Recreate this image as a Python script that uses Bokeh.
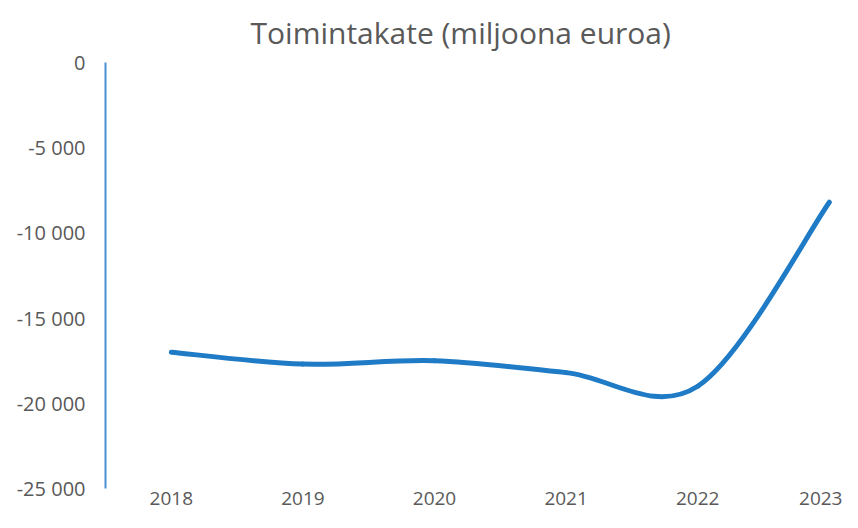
import numpy as np
from bokeh.plotting import figure
from bokeh.models import Range1d, FixedTicker
from bokeh.embed import file_html
from bokeh.resources import INLINE

# ---- data ----
years = [2018, 2019, 2020, 2021, 2022, 2023]
toimintakate = [-17000, -17700, -17500, -18200, -19000, -8200]
y_ticks = [0, -5000, -10000, -15000, -20000, -25000]
y_tick_labels = ["0", "-5 000", "-10 000", "-15 000", "-20 000", "-25 000"]
x_tick_labels = ["2018", "2019", "2020", "2021", "2022", "2023"]
title_text = "Toimintakate (miljoona euroa)"

FONT = "Open Sans"
TEXT_COLOR = "#595959"
LINE_COLOR = "#1f7bc6"

p = figure(width=842, height=512, output_backend="svg", toolbar_location=None,
           x_range=Range1d(2017.5, 2023.1), y_range=Range1d(-25000, 0),
           min_border_left=105, min_border_right=0, min_border_top=62,
           min_border_bottom=24, outline_line_color=None,
           background_fill_color="white", border_fill_color="white")

p.title.text = title_text
p.title.text_font = FONT
p.title.text_font_size = "30px"
p.title.text_font_style = "normal"
p.title.text_color = TEXT_COLOR
p.title.align = "left"
p.title.offset = 145
p.title.standoff = 19

p.grid.visible = False

# smooth curve (Excel-style smoothed line) built from the data points
x = np.array(years, dtype=float)
y = np.array(toimintakate, dtype=float)
xp = np.concatenate([[x[0]], x, [x[-1]]])
yp = np.concatenate([[y[0]], y, [y[-1]]])
n = len(x)
x0, y0 = x[:-1], y[:-1]
x1, y1 = x[1:], y[1:]
cx0 = x0 + (xp[2:n + 1] - xp[0:n - 1]) / 6.0
cy0 = y0 + (yp[2:n + 1] - yp[0:n - 1]) / 6.0
cx1 = x1 - (xp[3:n + 2] - xp[1:n]) / 6.0
cy1 = y1 - (yp[3:n + 2] - yp[1:n]) / 6.0
p.bezier(x0=x0, y0=y0, x1=x1, y1=y1, cx0=cx0, cy0=cy0, cx1=cx1, cy1=cy1,
         line_color=LINE_COLOR, line_width=5, line_cap="round")

# x axis
xa = p.xaxis[0]
xa.ticker = FixedTicker(ticks=years)
xa.major_label_overrides = {yr: lab for yr, lab in zip(years, x_tick_labels)}
xa.axis_line_color = None
xa.major_tick_line_color = None
xa.minor_tick_line_color = None
xa.major_tick_out = 0
xa.major_label_text_font = FONT
xa.major_label_text_font_size = "19px"
xa.major_label_text_color = TEXT_COLOR
xa.major_label_standoff = 3

# y axis
ya = p.yaxis[0]
ya.ticker = FixedTicker(ticks=y_ticks)
ya.major_label_overrides = {t: lab for t, lab in zip(y_ticks, y_tick_labels)}
ya.axis_line_color = "#4a90d4"
ya.axis_line_width = 2
ya.major_tick_line_color = None
ya.minor_tick_line_color = None
ya.major_tick_out = 0
ya.major_label_text_font = FONT
ya.major_label_text_font_size = "20px"
ya.major_label_text_color = TEXT_COLOR
ya.major_label_standoff = 20

open("out.html", "w").write(file_html(p, INLINE))
